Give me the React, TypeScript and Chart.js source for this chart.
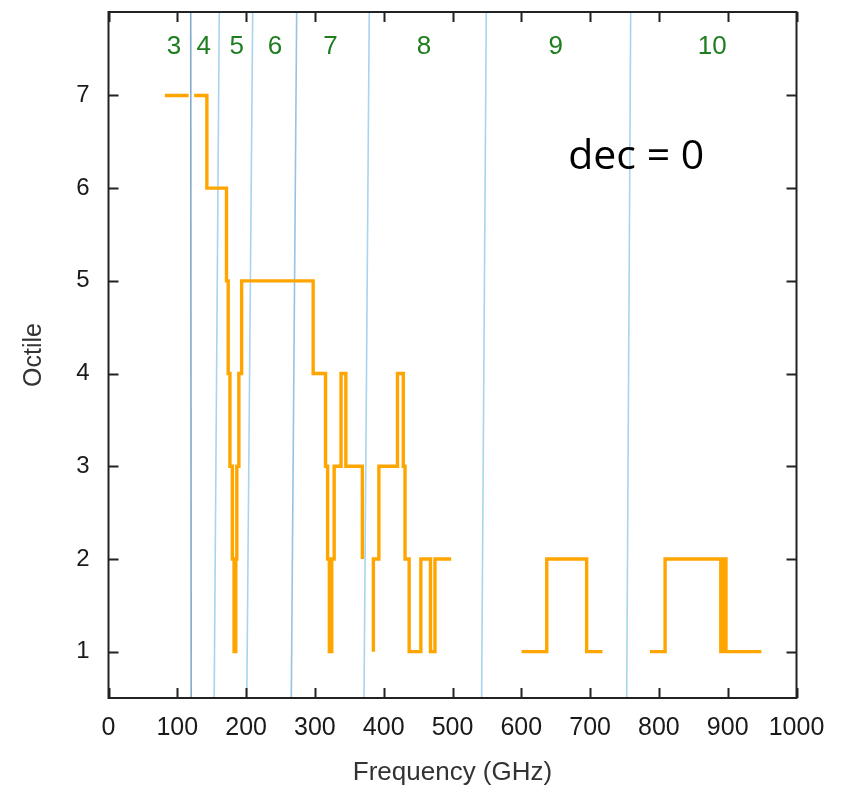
import React, { useEffect, useRef } from 'react';
import { Chart, registerables } from 'chart.js';

Chart.register(...registerables);

// Axis ticks
const xTickValues = [0, 100, 200, 300, 400, 500, 600, 700, 800, 900, 1000];
const yTickValues = [1, 2, 3, 4, 5, 6, 7];

// Octile step curve (segment-start frequencies, GHz) and octile values; null = gap
const octileFreq = [
  82, 116.5,
  null,
  124.5, 143, 171.5, 174, 176.5, 180, 182.5, 185, 186.5, 189.5, 193.5, 297.5, 315.5, 318.5, 321, 324.5, 328, 338, 345, 369,
  null,
  385, 385, 393, 420, 428.5, 431, 437, 454, 468, 474.5, 498,
  null,
  600.5, 637, 695, 718,
  null,
  787, 809, 890, 894.5, 897.5, 949,
];
const octileValue = [
  7, 7,
  null,
  7, 6, 5, 4, 3, 2, 1, 2, 3, 4, 5, 4, 3, 2, 1, 2, 3, 4, 3, 2,
  null,
  1, 2, 3, 4, 3, 2, 1, 2, 1, 2, 2,
  null,
  1, 2, 1, 1,
  null,
  1, 2, 1, 2, 1, 1,
];

// Band boundary lines (slightly slanted): frequency at top and at bottom of the plot
const bandLineTopFreq = [119.5, 161, 209.6, 273.5, 379, 549.1, 759];
const bandLineBottomFreq = [120.2, 153.6, 201, 265.7, 371.4, 542.3, 753.2];
const bandLineColors = ['#80aad0', '#a8d4f0', '#a8d4f0', '#95c3e6', '#a8d4f0', '#a8d4f0', '#a8d4f0'];

// Band labels
const bandLabels = ['3', '4', '5', '6', '7', '8', '9', '10'];
const bandLabelFreq = [95, 138.5, 186.5, 242, 322.5, 458.5, 650, 877.5];
const bandLabelOctile = 7.52;

// Annotation
const annotationText = 'dec = 0';
const annotationFreq = 767;
const annotationOctile = 6.33;

const Y_MIN = 0.5;
const Y_MAX = 7.9;

const FONT = '"Liberation Sans", Arial, sans-serif';

const framePlugin = {
  id: 'framePlugin',
  afterDatasetsDraw(chart: any) {
    const { ctx, chartArea, scales } = chart;
    const xs = scales.x;
    const ys = scales.y;
    ctx.save();
    // band labels
    ctx.fillStyle = '#1e7d1e';
    ctx.font = '26px ' + FONT;
    ctx.textAlign = 'center';
    ctx.textBaseline = 'middle';
    bandLabels.forEach((t, i) => {
      ctx.fillText(t, xs.getPixelForValue(bandLabelFreq[i]), ys.getPixelForValue(bandLabelOctile));
    });
    // annotation
    ctx.fillStyle = '#000';
    ctx.font = '41px "Open Sans", sans-serif';
    ctx.fillText(annotationText, xs.getPixelForValue(annotationFreq), ys.getPixelForValue(annotationOctile));

    // frame
    ctx.strokeStyle = '#222';
    ctx.lineWidth = 2;
    ctx.strokeRect(chartArea.left, chartArea.top, chartArea.right - chartArea.left, chartArea.bottom - chartArea.top);
    // inward ticks
    const tl = 10;
    ctx.beginPath();
    xTickValues.forEach((v) => {
      const px = Math.round(xs.getPixelForValue(v)) + 0.5;
      ctx.moveTo(px, chartArea.bottom);
      ctx.lineTo(px, chartArea.bottom - tl);
      ctx.moveTo(px, chartArea.top);
      ctx.lineTo(px, chartArea.top + tl);
    });
    yTickValues.forEach((v) => {
      const py = Math.round(ys.getPixelForValue(v)) + 0.5;
      ctx.moveTo(chartArea.left, py);
      ctx.lineTo(chartArea.left + tl, py);
      ctx.moveTo(chartArea.right, py);
      ctx.lineTo(chartArea.right - tl, py);
    });
    ctx.stroke();
    ctx.restore();
  },
};

export default function App() {
  const ref = useRef<HTMLCanvasElement>(null);

  useEffect(() => {
    if (!ref.current) return;
    const octileData = octileFreq.map((f, i) => ({ x: f, y: octileValue[i] }));
    const bandDatasets = bandLineTopFreq.map((tf, i) => ({
      type: 'line' as const,
      data: [
        { x: tf, y: Y_MAX },
        { x: bandLineBottomFreq[i], y: Y_MIN },
      ],
      borderColor: bandLineColors[i],
      borderWidth: 1.6,
      pointRadius: 0,
      fill: false,
      order: 2,
    }));

    const chart = new Chart(ref.current, {
      type: 'line',
      data: {
        datasets: [
          {
            data: octileData as any,
            borderColor: '#ffa500',
            borderWidth: 3.4,
            pointRadius: 0,
            stepped: 'before',
            spanGaps: false,
            fill: false,
            order: 0,
          },
          ...bandDatasets,
        ] as any,
      },
      options: {
        animation: false,
        responsive: false,
        events: [],
        layout: { padding: { top: 12, right: 45.5, left: 0, bottom: 0 } },
        plugins: {
          legend: { display: false },
          tooltip: { enabled: false },
        },
        scales: {
          x: {
            type: 'linear',
            min: 0,
            max: 1000,
            afterBuildTicks: (s: any) => {
              s.ticks = xTickValues.map((v) => ({ value: v }));
            },
            afterFit: (s: any) => {
              s.height = 90;
              s.paddingLeft = 0;
              s.paddingRight = 0;
            },
            grid: { display: false, drawTicks: false },
            border: { display: false },
            ticks: {
              autoSkip: false,
              maxRotation: 0,
              padding: 15,
              color: '#1a1a1a',
              font: { family: FONT, size: 25 },
              callback: (v: any) => String(v),
            },
            title: {
              display: true,
              text: 'Frequency (GHz)',
              color: '#333',
              font: { family: FONT, size: 26 },
              padding: { top: 0, bottom: 0 },
            },
          },
          y: {
            type: 'linear',
            min: Y_MIN,
            max: Y_MAX,
            afterBuildTicks: (s: any) => {
              s.ticks = yTickValues.map((v) => ({ value: v }));
            },
            afterFit: (s: any) => {
              s.width = 108.5;
              s.paddingTop = 0;
              s.paddingBottom = 0;
            },
            grid: { display: false, drawTicks: false },
            border: { display: false },
            ticks: {
              padding: 19,
              color: '#1a1a1a',
              font: { family: FONT, size: 24 },
              callback: (v: any) => String(v),
            },
            title: {
              display: true,
              text: 'Octile',
              color: '#333',
              font: { family: FONT, size: 25 },
              padding: { top: 19, bottom: 0 },
            },
          },
        },
      },
      plugins: [framePlugin],
    });
    return () => chart.destroy();
  }, []);

  return (
    <div style={{ position: 'absolute', left: 0, top: 0, width: 842, height: 788, background: '#fff' }}>
      <canvas ref={ref} width={842} height={788} style={{ width: 842, height: 788, display: 'block' }} />
    </div>
  );
}
